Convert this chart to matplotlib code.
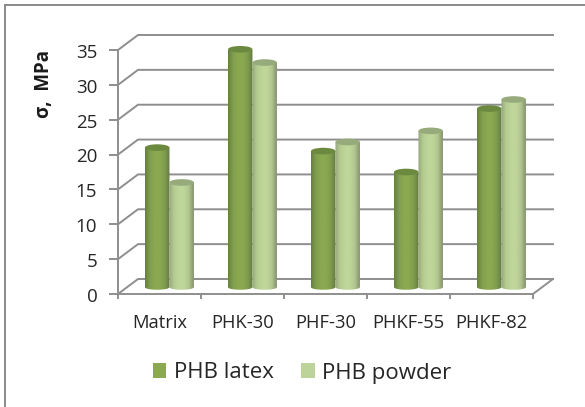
#3D-look clustered cylinder chart, done on plain 2D axes
import numpy as np
import matplotlib
matplotlib.use('Agg')
import matplotlib.pyplot as plt
from matplotlib.colors import LinearSegmentedColormap
from matplotlib.lines import Line2D
from matplotlib.patches import Ellipse, Patch, PathPatch
from matplotlib.path import Path

categories = ['Matrix', 'PHK-30', 'PHF-30', 'PHKF-55', 'PHKF-82']
latex = [20.0, 34.1, 19.5, 16.5, 25.6]
powder = [15.0, 32.2, 20.8, 22.4, 26.9]
yticks = [0, 5, 10, 15, 20, 25, 30, 35]
series_names = ['PHB latex', 'PHB powder']

W, H = 585, 407
plt.rcParams['font.family'] = ['Open Sans', 'DejaVu Sans']
GRID = '#8e8e8e'
TEXT = '#262626'

fig = plt.figure(figsize=(W/100, H/100), dpi=100)
# front plane of the box: x 118-533 px, y 50-294 px
ax = fig.add_axes([118/W, 1-294/H, 415/W, 244/H])
ax.set_xlim(0, 5)
ax.set_ylim(0, 35)
ax.axis('off')

# depth of the box in data units
dx = 20/83
dy = 15/6.97

# wall, floor, gridlines
for v in yticks:
    ax.plot([0, dx, 5+dx], [v, v+dy, v+dy], color=GRID, lw=1.4, clip_on=False,
            solid_joinstyle='miter', zorder=1)
    ax.plot([-0.1, 0], [v, v], color=GRID, lw=1.4, clip_on=False, zorder=1)
    ax.text(-0.25, v-0.4, str(v), ha='right', va='center', fontsize=13.5, color=TEXT)
ax.plot([0, 0], [0, 35], color=GRID, lw=1.4, clip_on=False, zorder=1)
ax.plot([0, 5, 5+dx], [0, 0, dy], color=GRID, lw=1.4, clip_on=False, zorder=1)
for i in range(6):
    ax.plot([i, i], [0, -0.6], color=GRID, lw=1.4, clip_on=False, zorder=1)
for i, c in enumerate(categories):
    ax.text(i+0.5, -4.1, c, ha='center', va='center', fontsize=13.2, color=TEXT)

ax.text(-0.89, 30.1, '\u03c3,  MPa', rotation=90, ha='center', va='center',
        fontsize=13.5, fontweight='bold', color='#1a1a1a')

cmap_dark = LinearSegmentedColormap.from_list('d', ['#66803e', '#819f4e', '#8aa950', '#8aa950', '#7f9c4e', '#637a44'])
cmap_light = LinearSegmentedColormap.from_list('l', ['#95a77a', '#b5cc91', '#bfd69a', '#bfd69a', '#b0c68e', '#87936f'])
grad = np.linspace(0, 1, 64).reshape(1, -1)

bw = 0.295
eh = 0.95
base = 1.0   # floor level of the bar axis
xoff = 0.12

def cylinder(x0, v, cmap, top):
    verts = [(x0, base+v), (x0+bw, base+v), (x0+bw, base),
             (x0+bw, base-eh*0.55), (x0, base-eh*0.55), (x0, base), (x0, base+v)]
    codes = [Path.MOVETO, Path.LINETO, Path.LINETO, Path.CURVE4, Path.CURVE4, Path.CURVE4, Path.CLOSEPOLY]
    clip = PathPatch(Path(verts, codes), transform=ax.transData, fc='none', ec='none')
    ax.add_patch(clip)
    im = ax.imshow(grad, cmap=cmap, extent=[x0, x0+bw, base-eh, base+v], aspect='auto', zorder=3)
    im.set_clip_path(clip)
    ax.add_patch(Ellipse((x0+bw/2, base+v), bw, eh, fc=top, ec='none', zorder=4, clip_on=False))

for i in range(5):
    cx = i+0.5+xoff
    cylinder(cx-bw, latex[i], cmap_dark, '#6c8a3f')
    cylinder(cx, powder[i], cmap_light, '#97aa7c')
ax.set_xlim(0, 5)
ax.set_ylim(0, 35)

handles = [Patch(fc='#8aa950', ec='none'), Patch(fc='#bcd49a', ec='none')]
fig.legend(handles, series_names, ncol=2, frameon=False, loc='center',
           bbox_to_anchor=(302/W, 1-373/H), fontsize=16, labelcolor=TEXT,
           handlelength=0.62, handleheight=0.62, handletextpad=0.32, columnspacing=1.25)

# chart frame, cut off by the image on the right and bottom
for xs, ys in [([4.5, W], [5, 5]), ([4.5, 4.5], [5, H])]:
    fig.add_artist(Line2D([x/W for x in xs], [1-y/H for y in ys], color='#8a8a8a', lw=1.4))

fig.savefig('out.png', dpi=100)
